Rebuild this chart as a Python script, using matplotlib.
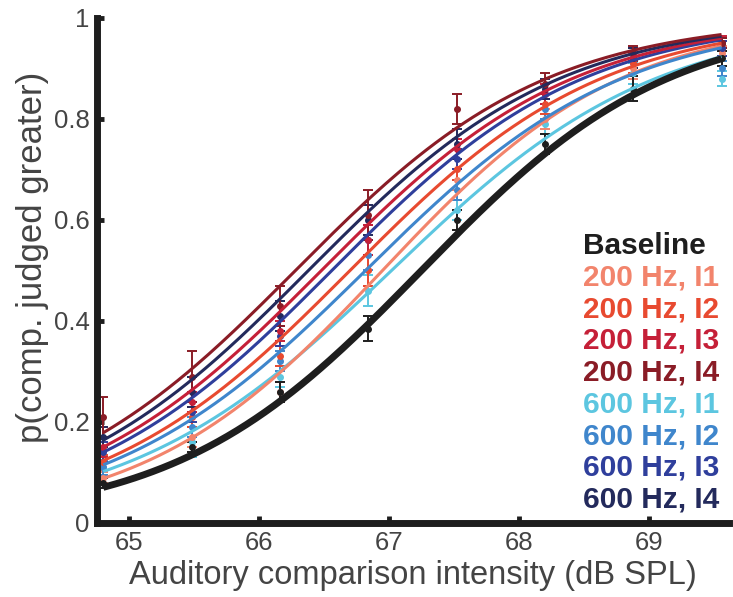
import matplotlib
matplotlib.use('Agg')
import matplotlib.pyplot as plt
import numpy as np

plt.rcParams['font.family'] = ['Liberation Sans', 'DejaVu Sans']

# conditions (legend order)
labels = ['Baseline', '200 Hz, I1', '200 Hz, I2', '200 Hz, I3', '200 Hz, I4',
          '600 Hz, I1', '600 Hz, I2', '600 Hz, I3', '600 Hz, I4']
colors = ['#1e1e1e', '#f2846c', '#e84a30', '#c52038', '#8a1c26',
          '#5cc6e0', '#3f86cc', '#2f3f9c', '#232a5c']

# comparison intensities (dB SPL)
x_pts = [64.8, 65.48, 66.16, 66.84, 67.52, 68.2, 68.88, 69.56]

# mean proportions per condition
p_base = [0.08, 0.15, 0.26, 0.385, 0.60, 0.75, 0.86, 0.92]
p_200_1 = [0.09, 0.17, 0.26, 0.50, 0.68, 0.80, 0.90, 0.93]
p_200_2 = [0.12, 0.21, 0.33, 0.50, 0.70, 0.83, 0.91, 0.94]
p_200_3 = [0.15, 0.24, 0.38, 0.56, 0.74, 0.85, 0.92, 0.95]
p_200_4 = [0.21, 0.29, 0.43, 0.61, 0.82, 0.87, 0.93, 0.95]
p_600_1 = [0.11, 0.16, 0.29, 0.46, 0.62, 0.79, 0.89, 0.88]
p_600_2 = [0.11, 0.19, 0.32, 0.53, 0.66, 0.82, 0.91, 0.90]
p_600_3 = [0.14, 0.22, 0.37, 0.56, 0.72, 0.85, 0.92, 0.94]
p_600_4 = [0.17, 0.26, 0.41, 0.60, 0.75, 0.86, 0.92, 0.95]

# standard errors
e_base = [0.01, 0.01, 0.02, 0.025, 0.02, 0.02, 0.025, 0.015]
e_200_1 = [0.01, 0.02, 0.02, 0.03, 0.02, 0.02, 0.02, 0.015]
e_200_2 = [0.015, 0.02, 0.02, 0.03, 0.02, 0.02, 0.02, 0.015]
e_200_3 = [0.02, 0.02, 0.02, 0.03, 0.02, 0.02, 0.02, 0.015]
e_200_4 = [0.04, 0.05, 0.04, 0.05, 0.03, 0.02, 0.015, 0.01]
e_600_1 = [0.01, 0.03, 0.02, 0.03, 0.02, 0.02, 0.02, 0.015]
e_600_2 = [0.015, 0.02, 0.02, 0.03, 0.02, 0.02, 0.02, 0.015]
e_600_3 = [0.02, 0.02, 0.02, 0.03, 0.02, 0.02, 0.02, 0.015]
e_600_4 = [0.02, 0.03, 0.03, 0.03, 0.03, 0.02, 0.02, 0.01]

# logistic fit parameters: midpoint (dB) and spread (dB)
fit_mu = [67.25, 66.95, 66.70, 66.48, 66.28, 67.02, 66.82, 66.56, 66.38]
fit_s = [0.95, 0.92, 0.97, 0.97, 0.97, 1.02, 0.99, 0.97, 0.97]

means = [p_base, p_200_1, p_200_2, p_200_3, p_200_4, p_600_1, p_600_2, p_600_3, p_600_4]
errs = [e_base, e_200_1, e_200_2, e_200_3, e_200_4, e_600_1, e_600_2, e_600_3, e_600_4]

fig = plt.figure(figsize=(7.33, 5.97), dpi=100)
ax = fig.add_axes([0.132, 0.124, 0.863, 0.846])

xs = np.linspace(x_pts[0], x_pts[-1], 200)
order = [5, 1, 6, 2, 7, 3, 8, 4, 0]
for i in order:
    lw = 5 if i == 0 else 2.2
    ax.errorbar(x_pts, means[i], yerr=errs[i], fmt='o', ms=4, color=colors[i],
                ecolor=colors[i], elinewidth=1.4, capsize=3.5, capthick=1.4, zorder=2)
    fit = 1 / (1 + np.exp(-(xs - fit_mu[i]) / fit_s[i]))
    ax.plot(xs, fit, color=colors[i], lw=lw, zorder=3 if i else 4, solid_capstyle='butt')

ax.set_xlim(64.75, 69.62)
ax.set_ylim(0, 1)
ax.set_xticks([65, 66, 67, 68, 69])
ax.set_yticks([0, 0.2, 0.4, 0.6, 0.8, 1])
ax.set_yticklabels(['0', '0.2', '0.4', '0.6', '0.8', '1'])
for s in ['top', 'right']:
    ax.spines[s].set_visible(False)
for s in ['left', 'bottom']:
    ax.spines[s].set_linewidth(5)
    ax.spines[s].set_color('#1e1e1e')
ax.tick_params(direction='in', length=4.8, width=3.5, color='#1e1e1e',
               labelsize=18.5, labelcolor='#444444')
ax.tick_params(axis='x', pad=6)
ax.tick_params(axis='y', pad=5)
ax.set_xlabel('Auditory comparison intensity (dB SPL)', fontsize=23.5, color='#444444')
ax.xaxis.set_label_coords(0.5, -0.073)
ax.set_ylabel('p(comp. judged greater)', fontsize=25, color='#444444')
ax.yaxis.set_label_coords(-0.076, 0.525)

# legend as coloured text
y0, dy = 0.533, 0.0628
for k, (lab, c) in enumerate(zip(labels, colors)):
    ax.text(0.768, y0 - k * dy, lab, color=c, fontsize=21.5, fontweight='bold',
            transform=ax.transAxes, ha='left', va='baseline')

fig.savefig('out.png', dpi=100, facecolor='white')
